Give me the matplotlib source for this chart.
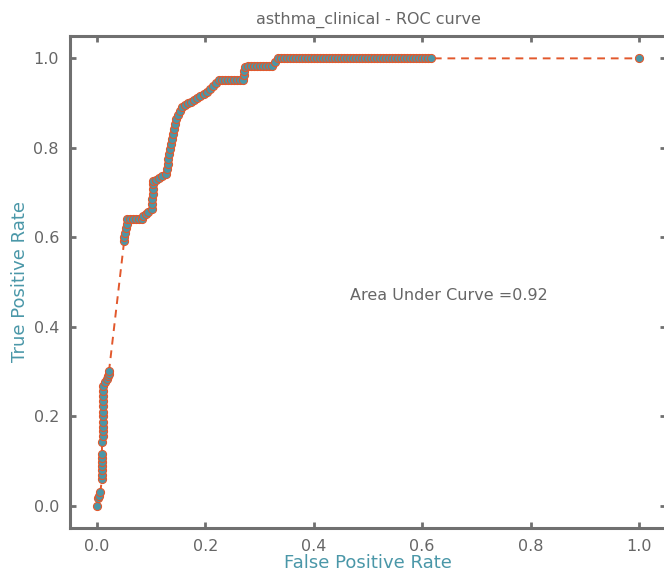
import matplotlib
matplotlib.use("Agg")
import matplotlib.pyplot as plt

title = "asthma_clinical - ROC curve"
auc_value = 0.92

fpr = [0.000, 0.002, 0.004, 0.006, 0.009, 0.009, 0.009, 0.009, 0.009, 0.009,
       0.009, 0.009, 0.011, 0.011, 0.011, 0.011, 0.011, 0.011, 0.011, 0.011,
       0.011, 0.011, 0.011, 0.015, 0.018, 0.020, 0.022, 0.022,
       0.050, 0.050, 0.052, 0.054, 0.055, 0.055, 0.061, 0.066, 0.072, 0.078,
       0.083, 0.085, 0.090, 0.094,
       0.101, 0.101, 0.101, 0.103, 0.103, 0.103, 0.103, 0.109, 0.114, 0.120,
       0.127, 0.129, 0.131, 0.131, 0.133, 0.135, 0.137, 0.138, 0.140, 0.142,
       0.144, 0.146, 0.149, 0.153, 0.157, 0.162, 0.168, 0.173, 0.179, 0.185,
       0.190, 0.197, 0.203, 0.208, 0.214, 0.220, 0.225,
       0.231, 0.236, 0.242, 0.247, 0.253, 0.258, 0.264, 0.269,
       0.271, 0.271, 0.273,
       0.279, 0.284, 0.290, 0.295, 0.301, 0.306, 0.312, 0.317, 0.323,
       0.328, 0.334,
       0.339, 0.345, 0.350, 0.356, 0.361, 0.367, 0.372, 0.378, 0.383, 0.389,
       0.394, 0.400, 0.405, 0.411, 0.417, 0.422, 0.428, 0.433, 0.439, 0.444,
       0.450, 0.455, 0.461, 0.466, 0.472, 0.477, 0.483, 0.489, 0.494, 0.500,
       0.505, 0.511, 0.516, 0.522, 0.527, 0.533, 0.538, 0.544, 0.550, 0.555,
       0.561, 0.566, 0.572, 0.577, 0.583, 0.588, 0.594, 0.600, 0.605, 0.611,
       0.616,
       1.000]

tpr = [0.000, 0.016, 0.022, 0.031, 0.060, 0.069, 0.080, 0.089, 0.098, 0.107,
       0.116, 0.143, 0.156, 0.167, 0.176, 0.187, 0.201, 0.210, 0.223, 0.234,
       0.246, 0.257, 0.268, 0.277, 0.283, 0.290, 0.295, 0.301,
       0.592, 0.600, 0.609, 0.621, 0.629, 0.641, 0.641, 0.641, 0.641, 0.641,
       0.641, 0.647, 0.652, 0.656,
       0.663, 0.674, 0.685, 0.696, 0.708, 0.719, 0.725, 0.728, 0.732, 0.737,
       0.741, 0.752, 0.763, 0.775, 0.786, 0.797, 0.808, 0.819, 0.830, 0.842,
       0.853, 0.864, 0.873, 0.882, 0.891, 0.895, 0.900, 0.902, 0.906, 0.911,
       0.915, 0.920, 0.924, 0.931, 0.938, 0.944, 0.951,
       0.951, 0.951, 0.951, 0.951, 0.951, 0.951, 0.951, 0.951,
       0.962, 0.971, 0.980,
       0.982, 0.982, 0.982, 0.982, 0.982, 0.982, 0.982, 0.982, 0.982,
       0.991, 1.000,
       1.000, 1.000, 1.000, 1.000, 1.000, 1.000, 1.000, 1.000, 1.000, 1.000,
       1.000, 1.000, 1.000, 1.000, 1.000, 1.000, 1.000, 1.000, 1.000, 1.000,
       1.000, 1.000, 1.000, 1.000, 1.000, 1.000, 1.000, 1.000, 1.000, 1.000,
       1.000, 1.000, 1.000, 1.000, 1.000, 1.000, 1.000, 1.000, 1.000, 1.000,
       1.000, 1.000, 1.000, 1.000, 1.000, 1.000, 1.000, 1.000, 1.000, 1.000,
       1.000,
       1.000]

ticks = [0.0, 0.2, 0.4, 0.6, 0.8, 1.0]

teal = "#4a97a8"
orange = "#e2582c"
gray = "#707070"
textgray = "#666666"

fig = plt.figure(figsize=(6.64, 5.71), dpi=100)
ax = fig.add_axes([70 / 664, (571 - 528) / 571, 596 / 664, 492 / 571])

ax.plot(fpr, tpr, linestyle="--", color=orange, linewidth=1.4, zorder=2,
        dashes=(4, 3))
ax.plot(fpr, tpr, linestyle="none", marker="o", markersize=5.8,
        markerfacecolor=teal, markeredgecolor=orange, markeredgewidth=0.8,
        zorder=3)

ax.set_xlim(-0.05, 1.05)
ax.set_ylim(-0.05, 1.05)
ax.set_xticks(ticks)
ax.set_yticks(ticks)
ax.set_xticklabels([f"{t:.1f}" for t in ticks])
ax.set_yticklabels([f"{t:.1f}" for t in ticks])

for s in ax.spines.values():
    s.set_color(gray)
    s.set_linewidth(2.2)

ax.tick_params(axis="both", which="both", direction="in", length=4, width=2,
               color=gray, labelcolor=textgray, labelsize=11.5,
               top=True, right=True, pad=8)

ax.set_xlabel("False Positive Rate", color=teal, fontsize=13, labelpad=0)
ax.set_ylabel("True Positive Rate", color=teal, fontsize=13, labelpad=3)
ax.set_title(title, color=textgray, fontsize=11.5, pad=9)

ax.text(0.65, 0.47, f"Area Under Curve ={auc_value:.2f}", ha="center",
        va="center", fontsize=11.5, color=textgray)

fig.savefig("out.png", dpi=100)
